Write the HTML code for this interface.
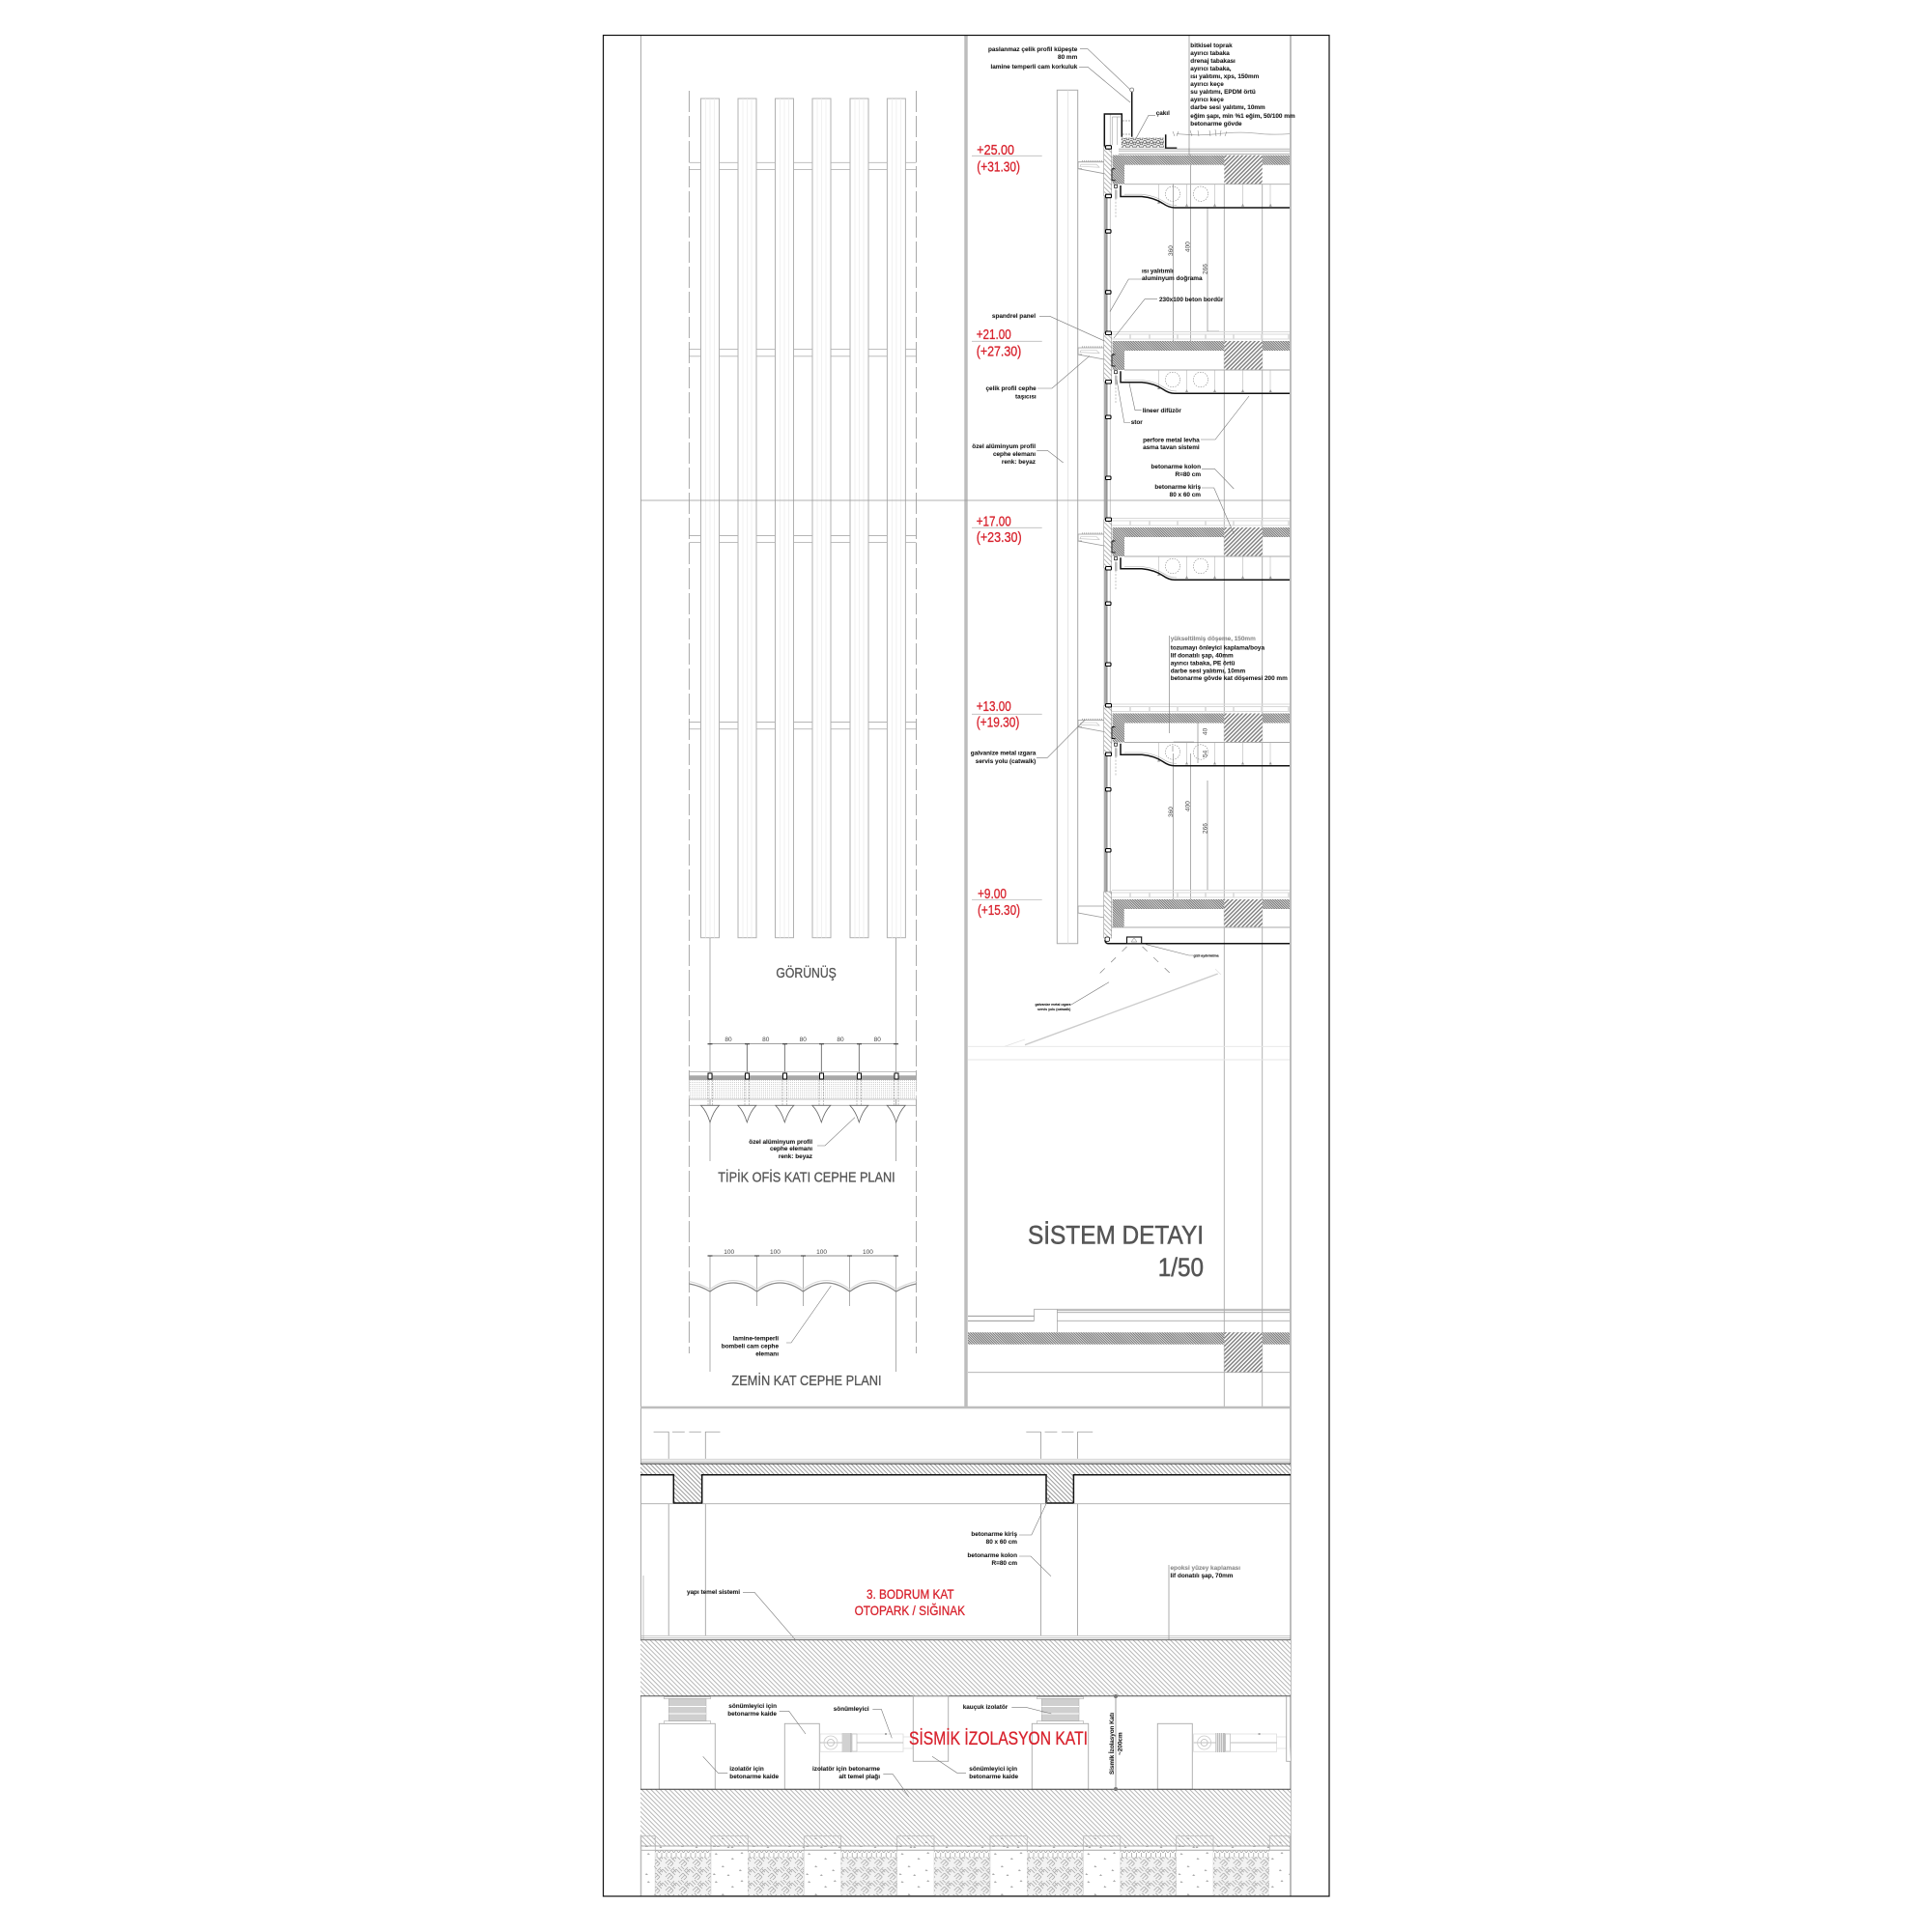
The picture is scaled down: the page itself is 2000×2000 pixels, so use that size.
<!DOCTYPE html>
<html><head><meta charset="utf-8"><title>Sistem Detayı</title>
<style>
html,body{margin:0;padding:0;background:#fff;width:2000px;height:2000px;overflow:hidden}
svg{display:block}
.t{font:bold 6.4px "Liberation Sans",sans-serif;fill:#1a1a1a;stroke:#1a1a1a;stroke-width:.08}
.e{text-anchor:end}
.g{fill:#8a8a8a;stroke:#8a8a8a}
.r{font-family:"Liberation Sans",sans-serif;fill:#d8232e;font-weight:normal;stroke:#d8232e;stroke-width:.3}
.h{font-family:"Liberation Sans",sans-serif;fill:#555;font-weight:normal;stroke:#555;stroke-width:.3}
.d{font:6.5px "Liberation Sans",sans-serif;fill:#444}
.l{fill:none;stroke:#777;stroke-width:.6}
.m{fill:none;stroke:#aaa;stroke-width:.9}
.k{fill:none;stroke:#111;stroke-width:1.5}
</style></head><body>
<svg width="2000" height="2000" viewBox="0 0 2000 2000" xmlns="http://www.w3.org/2000/svg">
<defs>
<pattern id="fine" width="1.8" height="1.8" patternUnits="userSpaceOnUse" patternTransform="rotate(45)"><rect width="1.8" height="1.8" fill="#fff"/><rect width="1.8" height="1.1" fill="#6e6e6e"/></pattern>
<pattern id="beam" width="3" height="3" patternUnits="userSpaceOnUse" patternTransform="rotate(-45)"><rect width="3" height="3" fill="#fff"/><rect width="3" height="1.4" fill="#7c7c7c"/></pattern>
<pattern id="found" width="3.4" height="3.4" patternUnits="userSpaceOnUse" patternTransform="rotate(45)"><rect width="3.4" height="3.4" fill="#fff"/><rect width="3.4" height=".9" fill="#b0b0b0"/></pattern>
<pattern id="roofb" width="3.2" height="3.2" patternUnits="userSpaceOnUse" patternTransform="rotate(45)"><rect width="3.2" height="3.2" fill="#fff"/><rect width="3.2" height="1" fill="#9a9a9a"/></pattern>
<pattern id="dots" width="2" height="2" patternUnits="userSpaceOnUse"><rect width="2" height="2" fill="#fff"/><rect width="1" height="1" fill="#cfcfcf"/></pattern>
<pattern id="weave" width="14" height="14" patternUnits="userSpaceOnUse"><rect width="14" height="14" fill="#f2f2f2"/><path d="M0 3l4 4M2 1l4 4M4-1l4 4M7 7l-4 4M9 9l-4 4M11 11l-4 4M14 3l-4 4M12 1l-4 4M7 7l4 4M9 5l4 4M11 3l4 4" stroke="#aaa" stroke-width=".8" fill="none"/></pattern>
<pattern id="zig" width="5" height="7" patternUnits="userSpaceOnUse"><rect width="5" height="7" fill="#fff"/><path d="M0 0v4l2.5 3 2.5-3V0" stroke="#999" stroke-width=".7" fill="none"/></pattern>
<pattern id="speck" width="37" height="29" patternUnits="userSpaceOnUse"><path d="M5 4l2 2H4zM22 9l2 2h-3zM12 17l2 2h-3zM30 21l2 2h-3zM3 25l2 2H2zM32 3l1.5 2h-3zM18 26l1.500 2h-3z" fill="#aaa"/></pattern>
<pattern id="grav" width="7" height="5" patternUnits="userSpaceOnUse"><rect width="7" height="5" fill="#e4e4e4"/><circle cx="2" cy="2" r="1.600" fill="none" stroke="#666" stroke-width=".7"/><circle cx="5.500" cy="3.500" r="1.400" fill="none" stroke="#666" stroke-width=".7"/></pattern>

<g id="strip"><rect x="0" y="102" width="19" height="868.700" fill="#fff" stroke="#b0b0b0" stroke-width="1"/><path d="M5 102v868.700M9.500 102v868.700M14 102v868.700" stroke="#ececec" stroke-width=".7"/></g>

<g id="floor">
 <rect x="1151.700" y="0" width="184.300" height="10" fill="url(#fine)"/>
 <rect x="1151.700" y="0" width="12.300" height="30" fill="url(#fine)"/>
 <rect x="1267.300" y="0" width="39.400" height="30" fill="url(#beam)"/>
 <path d="M1164 30H1336" class="m"/>
 <path d="M1199.300 30v20M1228.300 30v22M1257.300 30v22M1286.300 30v22M1315 30v22" stroke="#aaa" stroke-width=".5" fill="none"/>
 <path d="M1198 50h3l-1.500-3zM1227 53h3l-1.500-3zM1256 53h3l-1.500-3zM1285 53h3l-1.500-3zM1313.700 53h3l-1.500-3z" fill="#999"/>
 <circle cx="1214" cy="40" r="7.700" fill="none" stroke="#888" stroke-width=".6" stroke-dasharray="1.500 1.200"/>
 <circle cx="1243" cy="40" r="7.700" fill="none" stroke="#888" stroke-width=".6" stroke-dasharray="1.500 1.200"/>
 <path d="M1160 31.300V42.800H1182Q1195 44 1204 50 1210 54.300 1216 54.300H1336" class="k"/>
 <path d="M1164 40.500H1182Q1196 42 1205 48 1211 52 1218 52" fill="none" stroke="#aaa" stroke-width=".6"/>
 <rect x="1142.700" y="-8" width="8" height="50" fill="url(#found)" stroke="#888" stroke-width=".5"/>
 <path d="M1151 14h3.500M1151 26h3.500M1151 14v12" stroke="#111" stroke-width="1" fill="none"/>
 <rect x="1153.500" y="30.700" width="3" height="3" fill="#fff" stroke="#111" stroke-width=".7"/>
 <path d="M1155 34v30" stroke="#aaa" stroke-width=".7" stroke-dasharray="2 1.500"/>
 <rect x="1154" y="36" width="2.500" height="9" fill="#bbb"/>
 <rect x="1144.500" y="-10" width="6" height="3.500" rx="1" fill="#fff" stroke="#000" stroke-width="1.100"/>
 <rect x="1144.500" y="40.500" width="6" height="3.500" rx="1" fill="#fff" stroke="#000" stroke-width="1.100"/>
 <rect x="1144.500" y="77" width="5.500" height="3.500" rx="1" fill="#fff" stroke="#000" stroke-width="1.100"/>
 <rect x="1144.500" y="140" width="5.500" height="3.500" rx="1" fill="#fff" stroke="#000" stroke-width="1.100"/>
 <path d="M1116 7V14l27 5M1116 7h27M1116 14h4" fill="none" stroke="#999" stroke-width=".8"/>
 <path d="M1119 9.500h16l3 3-20-.800z" fill="none" stroke="#bbb" stroke-width=".6"/>
 <path d="M1120 6h22" stroke="#aaa" stroke-width="1.200" stroke-dasharray="1 1"/>
</g>
<g id="raised">
 <path d="M1151-9.500H1336M1151-7H1336M1151-2H1336" stroke="#d8d8d8" stroke-width=".9" fill="none"/>
 <path d="M1190-7v5M1219-7v5M1248-7v5M1277-7v5M1306-7v5M1334-7v5M1170-7v5" stroke="#ddd" stroke-width="1.800"/>
</g>
<g id="damper">
 <path d="M849 1795H935V1813.300H849zM935 1798H945V1810H935z" fill="#fff" stroke="#ddd" stroke-width=".8"/>
 <path d="M849 1804H935" stroke="#aaa" stroke-width=".7"/>
 <circle cx="860" cy="1804" r="7" fill="none" stroke="#ccc" stroke-width=".8"/><circle cx="860" cy="1804" r="3.500" fill="none" stroke="#bbb" stroke-width=".8"/>
 <rect x="871.700" y="1794" width="10" height="20" fill="#bdbdbd"/>
 <path d="M873 1794v20M875 1794v20M877 1794v20M879 1794v20" stroke="#fff" stroke-width=".6"/>
 <rect x="882" y="1795" width="5" height="18" fill="#fff" stroke="#bbb" stroke-width=".7"/>
 <rect x="916" y="1794" width="2" height="2" fill="#aaa"/>
</g>
<g id="iso">
 <rect x="687.300" y="1756.700" width="48.400" height="1.800" fill="#fff" stroke="#aaa" stroke-width=".6"/>
 <rect x="692.300" y="1758.500" width="38.700" height="23.200" fill="#cfcfcf" stroke="#aaa" stroke-width=".5"/>
 <path d="M692.300 1766.500h38.700M692.300 1774h38.700" stroke="#fff" stroke-width="1"/>
 <rect x="687.300" y="1781.700" width="48.400" height="2.600" fill="#fff" stroke="#aaa" stroke-width=".6"/>
</g>
<g id="prof"><path d="M-9.500 0H9.500Q3.500 6 0 17.500Q-3.500 6-9.500 0z" fill="#fff" stroke="#666" stroke-width=".8"/></g>
<g id="pile">
 <rect x="0" y="1900.700" width="38.300" height="14.500" fill="url(#speck)" stroke="#bbb" stroke-width=".8"/>
 <rect x="0" y="1915.300" width="38.300" height="47" fill="url(#speck)" stroke="#ccc" stroke-width=".5"/>
 <rect x="38.300" y="1915.300" width="58" height="7" fill="url(#zig)"/>
 <rect x="38.300" y="1922.300" width="58" height="40" fill="url(#weave)"/>
</g>
</defs>
<rect width="2000" height="2000" fill="#fff"/>

<!-- left elevation -->
<path d="M713.300 168.300H948.500M713.300 175.400H948.500M713.300 361.600H948.500M713.300 368.800H948.500M713.300 554.500H948.500M713.300 561.600H948.500M713.300 747.500H948.500M713.300 754.700H948.500" stroke="#b5b5b5" stroke-width=".9"/>
<use href="#strip" x="725.500"/><use href="#strip" x="764"/><use href="#strip" x="802.500"/><use href="#strip" x="841"/><use href="#strip" x="880"/><use href="#strip" x="918.400"/>
<path d="M713.400 94V1401M948.500 94V1401" stroke="#a0a0a0" stroke-width=".9" stroke-dasharray="22 4" fill="none"/>
<path d="M735 971V1202M927.500 971V1202M735 1300V1420M927.500 1300V1420M783.600 1300V1352M831.400 1300V1352M879.600 1300V1352" class="l"/>
<!-- plan 1 -->
<path d="M735 1080.700H927.700" stroke="#666" stroke-width=".7"/>
<path d="M773.300 1080.700V1111M812.300 1080.700V1111M850.300 1080.700V1111M889.300 1080.700V1111" stroke="#555" stroke-width=".8"/>
<path d="M732.500 1080.700h5M771 1080.700h5M810 1080.700h5M848 1080.700h5M887 1080.700h5M925 1080.700h5" stroke="#222" stroke-width="1"/>
<rect x="713.500" y="1118" width="235" height="20" fill="url(#dots)"/>
<rect x="713.500" y="1113.300" width="235" height="4.700" fill="#a8a8a8"/>
<path d="M713.500 1109.500H948.500M713.500 1144.300H948.500M713.500 1138H948.500" stroke="#aaa" stroke-width=".8"/>
<path d="M733 1112v32M737.500 1112v32M771 1112v32M775.500 1112v32M810 1112v32M814.500 1112v32M848 1112v32M852.500 1112v32M887 1112v32M891.500 1112v32M925.500 1112v32M930 1112v32" stroke="#999" stroke-width=".6" stroke-dasharray="2 1"/>
<path d="M733 1111h4v6h-4zM771.500 1111h4v6h-4zM810.500 1111h4v6h-4zM848.500 1111h4v6h-4zM887.500 1111h4v6h-4zM926 1111h4v6h-4z" fill="#fff" stroke="#111" stroke-width="1"/>
<use href="#prof" x="735" y="1144.300"/><use href="#prof" x="773.300" y="1144.300"/><use href="#prof" x="812.300" y="1144.300"/><use href="#prof" x="850.300" y="1144.300"/><use href="#prof" x="889.300" y="1144.300"/><use href="#prof" x="927.700" y="1144.300"/>
<path d="M885 1156.700L854 1186H846" class="l"/>
<text class="d" x="754" y="1078" text-anchor="middle">80</text><text class="d" x="792.700" y="1078" text-anchor="middle">80</text><text class="d" x="831.300" y="1078" text-anchor="middle">80</text><text class="d" x="870" y="1078" text-anchor="middle">80</text><text class="d" x="908.300" y="1078" text-anchor="middle">80</text>
<text class="t e" x="841" y="1184">özel alüminyum profil</text><text class="t e" x="841" y="1191">cephe elemanı</text><text class="t e" x="841" y="1199">renk: beyaz</text>
<text class="h" x="803.400" y="1012" font-size="15" textLength="62.400" lengthAdjust="spacingAndGlyphs">GÖRÜNÜŞ</text>
<text class="h" x="743.300" y="1223.300" font-size="15" textLength="183.400" lengthAdjust="spacingAndGlyphs">TİPİK OFİS KATI CEPHE PLANI</text>
<text class="h" x="757.400" y="1434" font-size="15" textLength="155.200" lengthAdjust="spacingAndGlyphs">ZEMİN KAT CEPHE PLANI</text>
<!-- plan 2 -->
<path d="M735 1300H927.500" stroke="#666" stroke-width=".7"/>
<path d="M732.500 1300h5M781 1300h5M829 1300h5M877 1300h5M925 1300h5" stroke="#222" stroke-width="1"/>
<text class="d" x="754.700" y="1298" text-anchor="middle">100</text><text class="d" x="802.400" y="1298" text-anchor="middle">100</text><text class="d" x="850.600" y="1298" text-anchor="middle">100</text><text class="d" x="898.400" y="1298" text-anchor="middle">100</text>
<path d="M713.500 1329Q725 1331 735 1337Q759 1319 783.600 1337Q807.500 1319 831.400 1337Q855.500 1319 879.600 1337Q903.500 1319 927.500 1337Q938 1331 948.500 1329" fill="none" stroke="#8a8a8a" stroke-width="1.300"/>
<path d="M713.500 1326.500Q725 1329 735 1334.500Q759 1316.500 783.600 1334.500Q807.500 1316.500 831.400 1334.500Q855.500 1316.500 879.600 1334.500Q903.500 1316.500 927.500 1334.500Q938 1329 948.500 1326.500" fill="none" stroke="#d5d5d5" stroke-width="1"/>
<path d="M860.300 1331L819 1390H814" class="l"/>
<text class="t e" x="806" y="1387.500">lamine-temperli</text><text class="t e" x="806" y="1395.500">bombeli cam cephe</text><text class="t e" x="806" y="1403.500">elemanı</text>

<!-- right section -->
<path d="M1267.300 190V1457M1306.700 190V1457" stroke="#aaa" stroke-width=".9"/>
<path d="M1094.300 93.300H1115.700V976.700H1094.300Z" fill="#fff" stroke="#aaa" stroke-width="1"/><path d="M1105.700 93.300V976.700" stroke="#ddd" stroke-width=".8"/>
<path d="M1214.700 190V353M1232.300 160V353M1250 215V343H1262M1214.700 780V931M1232.300 780V931M1250 808V921" class="l"/>
<path d="M1144.200 152V960" stroke="#aaa" stroke-width="3"/><path d="M1146 152V960" stroke="#555" stroke-width=".7"/><path d="M1149.300 118V955" stroke="#bbb" stroke-width=".8"/>
<use href="#raised" y="353"/><use href="#raised" y="546"/><use href="#raised" y="738.500"/><use href="#raised" y="931"/>
<use href="#floor" y="160.700"/><use href="#floor" y="353"/><use href="#floor" y="546"/><use href="#floor" y="738.500"/>
<!-- bottom floor of detail -->
<rect x="1151.700" y="931" width="184.300" height="10" fill="url(#fine)"/>
<rect x="1151.700" y="931" width="12" height="29" fill="url(#fine)"/>
<rect x="1267.300" y="931" width="39.400" height="29" fill="url(#beam)"/>
<rect x="1142.700" y="923" width="8" height="48" fill="url(#found)" stroke="#888" stroke-width=".5"/>
<path d="M1116 938V945l27 5M1116 938h27" fill="none" stroke="#999" stroke-width=".8"/>
<path d="M1151 960H1336" class="m"/>
<path d="M1144 973q0 3.500 3 3.700H1336" class="k"/>
<rect x="1144" y="970" width="4.500" height="4.500" rx="1.500" fill="#fff" stroke="#111" stroke-width=".8"/>
<rect x="1166.500" y="970" width="15.200" height="6.700" fill="#fff" stroke="#111" stroke-width="1.100"/>
<path d="M1174 971l-3 4h6z" fill="none" stroke="#777" stroke-width=".5"/>
<path d="M1166.500 980L1133 1013M1182.600 980L1217 1013" stroke="#777" stroke-width=".6" stroke-dasharray="7 9" fill="none"/>
<path d="M1185 977.300L1230.800 989H1235.400" class="l"/>
<text class="t" x="1235.500" y="990.500" style="font-size:3.500px">gizli aydınlatma</text>
<text class="t" x="1071.500" y="1041" style="font-size:3.500px">galvanize metal ızgara</text><text class="t" x="1074" y="1046" style="font-size:3.500px">servis yolu (catwalk)</text>
<path d="M1109 1040L1148 1016.700" class="l"/>
<path d="M1061 1081.700L1260.700 1008" stroke="#ccc" stroke-width="1.400"/>
<path d="M1040 1083.300L1061 1076M1258 1003l6 6" stroke="#e2e2e2" stroke-width=".8"/>
<path d="M1002 1083.300H1336M1002 1097H1336" stroke="#e5e5e5" stroke-width=".9"/>
<!-- roof -->
<path d="M1143.300 151.700V118H1161.300V141.700" class="k"/>
<path d="M1171.700 93.300V141.700" stroke="#111" stroke-width="1.500"/>
<circle cx="1171.700" cy="93" r="2" fill="#fff" stroke="#777" stroke-width=".8"/>
<path d="M1151.300 121V150M1156.700 121V150M1151.300 121H1161" stroke="#aaa" stroke-width=".7" fill="none"/>
<path d="M1162 125h8M1162 139h8" stroke="#bbb" stroke-width="1.200" stroke-dasharray="2 1"/>
<rect x="1160.700" y="142.700" width="44.300" height="10" fill="url(#grav)"/>
<path d="M1206.700 139.300V153.300H1218.300" class="k"/>
<path d="M1158 154.200H1336M1158 156.200H1336M1158 159.300H1336" stroke="#aaa" stroke-width=".8"/>
<path d="M1218 138.500Q1240 141 1262 138.500T1300 138T1336 138.500" fill="none" stroke="#aaa" stroke-width=".7"/>
<path d="M1214 136l2 5M1220 136l-2 5M1232 135l2 6M1240 135l1 6M1252 135l1 6M1258 134l1 7M1264 135l-1 6M1270 136l-2 5" stroke="#777" stroke-width=".5"/>
<path d="M1231 37V160.700" class="l"/>
<!-- section lower -->
<path d="M1002 1362.300H1070.600M1002 1367.300H1070.600" stroke="#888" stroke-width=".8"/>
<path d="M1070.600 1367.300V1355.300H1336M1094.400 1355.300V1379M1094.400 1356.700H1336M1094.400 1358.700H1336M1094.400 1367.300H1336" stroke="#aaa" stroke-width=".8" fill="none"/>
<rect x="1002" y="1379.300" width="334" height="12.400" fill="url(#fine)"/>
<rect x="1267.500" y="1379.300" width="39" height="41.400" fill="url(#beam)"/>
<path d="M1002 1420.700H1336" class="m"/>

<!-- frame lines -->
<path d="M663.500 37V1963" stroke="#aaa" stroke-width="1"/>
<path d="M1000 37V1457" stroke="#bdbdbd" stroke-width="3.500"/>
<path d="M1336 37V1963" stroke="#bdbdbd" stroke-width="2"/>
<path d="M663 1457H1336" stroke="#bdbdbd" stroke-width="2.500"/>
<path d="M663 518H1336" stroke="#999" stroke-width=".8"/>

<!-- leaders section -->
<path d="M1118 50.700H1126L1170 92.700M1117 69.300H1126L1170 106M1196 119.300H1189L1176 143.300M1181.700 289H1168.300L1149 322.700M1198 309.700H1185L1153 350M1076 327.300H1086.700L1142.700 352.700M1074 402H1089L1128 368.300M1181.700 424.700H1175L1169 396.700M1170 437.500H1163.800L1156 393M1243 455H1258L1293 410M1244 485.300H1257.300L1277.300 506M1244 505H1256.700L1277.300 552.700M1073.300 466.300H1084.300L1100.700 479M1073 784.300H1084.300L1123.300 745M1210.700 658V759" class="l"/>
<path d="M1006 161.300H1078.700M1006 353.300H1078.700M1006 546.300H1078.700M1006 739.300H1078.700M1006 931.500H1078.700" stroke="#bbb" stroke-width=".8"/>
<path d="M1214.700 768H1236M1214 772V778M1240 748V790" class="l"/>

<text class="r" x="1011.300" y="160" font-size="14.500" textLength="38.700" lengthAdjust="spacingAndGlyphs">+25.00</text>
<text class="r" x="1011.300" y="177.700" font-size="14.500" textLength="44.700" lengthAdjust="spacingAndGlyphs">(+31.30)</text>
<text class="r" x="1010.700" y="351" font-size="14.500" textLength="36" lengthAdjust="spacingAndGlyphs">+21.00</text>
<text class="r" x="1010.700" y="368.300" font-size="14.500" textLength="46.600" lengthAdjust="spacingAndGlyphs">(+27.30)</text>
<text class="r" x="1010.700" y="544.300" font-size="14.500" textLength="36" lengthAdjust="spacingAndGlyphs">+17.00</text>
<text class="r" x="1010.700" y="561" font-size="14.500" textLength="47" lengthAdjust="spacingAndGlyphs">(+23.30)</text>
<text class="r" x="1010.700" y="736" font-size="14.500" textLength="36" lengthAdjust="spacingAndGlyphs">+13.00</text>
<text class="r" x="1010.700" y="752.700" font-size="14.500" textLength="44.700" lengthAdjust="spacingAndGlyphs">(+19.30)</text>
<text class="r" x="1012" y="930" font-size="14.500" textLength="30" lengthAdjust="spacingAndGlyphs">+9.00</text>
<text class="r" x="1012" y="947" font-size="14.500" textLength="44" lengthAdjust="spacingAndGlyphs">(+15.30)</text>

<text class="t e" x="1115.300" y="53">paslanmaz çelik profil küpeşte</text><text class="t e" x="1115.300" y="61">80 mm</text>
<text class="t e" x="1115.300" y="71">lamine temperli cam korkuluk</text>
<text class="t" x="1196.700" y="119">çakıl</text>
<text class="t" x="1232.300" y="49">bitkisel toprak</text><text class="t" x="1232.300" y="57">ayırıcı tabaka</text><text class="t" x="1232.300" y="65">drenaj tabakası</text><text class="t" x="1232.300" y="73">ayırıcı tabaka,</text><text class="t" x="1232.300" y="81">ısı yalıtımı, xps, 150mm</text><text class="t" x="1232.300" y="89">ayırıcı keçe</text><text class="t" x="1232.300" y="97">su yalıtımı, EPDM örtü</text><text class="t" x="1232.300" y="105">ayırıcı keçe</text><text class="t" x="1232.300" y="113">darbe sesi yalıtımı, 10mm</text><text class="t" x="1232.300" y="122">eğim şapı, min %1 eğim, 50/100 mm</text><text class="t" x="1232.300" y="130">betonarme gövde</text>
<text class="t" x="1182" y="282.500">ısı yalıtımlı</text><text class="t" x="1182" y="290">aluminyum doğrama</text>
<text class="t" x="1200" y="312">230x100 beton bordür</text>
<text class="t e" x="1072" y="329">spandrel panel</text>
<text class="t e" x="1072.700" y="404">çelik profil cephe</text><text class="t e" x="1072.700" y="412.500">taşıcısı</text>
<text class="t" x="1182.700" y="427">lineer difüzör</text>
<text class="t" x="1170.700" y="439">stor</text>
<text class="t e" x="1241.700" y="457.500">perfore metal levha</text><text class="t e" x="1241.700" y="465">asma tavan sistemi</text>
<text class="t e" x="1243" y="485">betonarme kolon</text><text class="t e" x="1243" y="493">R=80 cm</text>
<text class="t e" x="1243" y="506">betonarme kiriş</text><text class="t e" x="1243" y="514">80 x 60 cm</text>
<text class="t e" x="1072" y="464">özel alüminyum profil</text><text class="t e" x="1072" y="472">cephe elemanı</text><text class="t e" x="1072" y="480">renk: beyaz</text>
<text class="t g" x="1211.700" y="663">yükseltilmiş döşeme, 150mm</text><text class="t" x="1211.700" y="672.500">tozumayı önleyici kaplama/boya</text><text class="t" x="1211.700" y="680.500">lif donatılı şap, 40mm</text><text class="t" x="1211.700" y="688.500">ayırıcı tabaka, PE örtü</text><text class="t" x="1211.700" y="696.500">darbe sesi yalıtımı, 10mm</text><text class="t" x="1211.700" y="704">betonarme gövde kat döşemesi 200 mm</text>
<text class="t e" x="1072.300" y="781.500">galvanize metal ızgara</text><text class="t e" x="1072.300" y="790">servis yolu (catwalk)</text>
<text class="d" transform="translate(1214,265) rotate(-90)">360</text><text class="d" transform="translate(1231.500,261) rotate(-90)">400</text><text class="d" transform="translate(1249.500,284) rotate(-90)">266</text>
<text class="d" transform="translate(1214,846) rotate(-90)">360</text><text class="d" transform="translate(1231.500,840) rotate(-90)">400</text><text class="d" transform="translate(1249.500,863) rotate(-90)">266</text>
<text class="d" transform="translate(1249.500,761) rotate(-90)">40</text><text class="d" transform="translate(1249.500,784) rotate(-90)">54</text>
<text class="h" x="1064" y="1287.300" font-size="27" textLength="182" lengthAdjust="spacingAndGlyphs" style="stroke-width:.5">SİSTEM DETAYI</text>
<text class="h" x="1198.700" y="1321" font-size="27" textLength="47.300" lengthAdjust="spacingAndGlyphs" style="stroke-width:.5">1/50</text>

<!-- basement -->
<path d="M663 1511H1336M663 1513.300H1336" stroke="#aaa" stroke-width=".8"/>
<path d="M676.600 1482.300H692.200M696 1482.300H708.800M713.400 1482.300H725.800M730.300 1482.300H745.500M1062.300 1482.300H1077M1081.600 1482.300H1094.400M1099 1482.300H1111.400M1116 1482.300H1131.200" stroke="#aaa" stroke-width=".8"/>
<path d="M692.200 1482V1510M730.300 1482V1510M1077.500 1482V1510M1115.600 1482V1510M692.200 1556.700V1693M730.300 1556.700V1693M1077.500 1556.700V1693M1115.600 1556.700V1693" stroke="#999" stroke-width=".8"/>
<rect x="663" y="1515.700" width="673" height="11" fill="url(#roofb)"/>
<rect x="697.300" y="1526" width="29.400" height="30" fill="url(#roofb)"/><rect x="1083" y="1526" width="28.400" height="30" fill="url(#roofb)"/>
<path d="M663 1515.200H1336" stroke="#333" stroke-width="1"/>
<path d="M663 1526.700H697.300V1556H726.700V1526.700H1083V1556H1111.400V1526.700H1336" class="k"/>
<path d="M663 1556.700H697M727 1556.700H1083M1111 1556.700H1336" stroke="#aaa" stroke-width=".8"/>
<path d="M666 1631V1706" stroke="#aaa" stroke-width=".7"/>
<path d="M1055 1589H1067.800L1087 1548.300M1055 1611H1067L1088 1631.700M769 1648.300H781L832.700 1708.300M1210 1620V1720.700" class="l"/>
<text class="t e" x="1053" y="1590">betonarme kiriş</text><text class="t e" x="1053" y="1598">80 x 60 cm</text>
<text class="t e" x="1053" y="1612">betonarme kolon</text><text class="t e" x="1053" y="1620">R=80 cm</text>
<text class="t e" x="766" y="1650">yapı temel sistemi</text>
<text class="t g" x="1211.500" y="1625">epoksi yüzey kaplaması</text><text class="t" x="1211.500" y="1633">lif donatılı şap, 70mm</text>
<text class="r" x="897" y="1655" font-size="14" textLength="90.500" lengthAdjust="spacingAndGlyphs">3. BODRUM KAT</text>
<text class="r" x="884.600" y="1672" font-size="14" textLength="114.400" lengthAdjust="spacingAndGlyphs">OTOPARK / SIĞINAK</text>
<!-- foundation -->
<path d="M663 1693.300H1336M663 1695.700H1336" stroke="#aaa" stroke-width=".7"/>
<rect x="663" y="1698" width="673" height="57.500" fill="url(#found)"/>
<path d="M663 1697.500H1336" stroke="#777" stroke-width="1.300"/>
<path d="M663 1755.800H1336" stroke="#555" stroke-width="1"/>
<rect x="663" y="1852.300" width="673" height="58.700" fill="url(#found)"/>
<!-- isolators -->
<use href="#iso"/><use href="#iso" x="386"/>
<g fill="#fff" stroke="#aaa" stroke-width=".9">
<rect x="682.300" y="1784.300" width="58" height="68"/><rect x="1068.300" y="1784.300" width="58.400" height="68"/>
<rect x="812.300" y="1784.300" width="36" height="68"/><rect x="1198.300" y="1784.300" width="36" height="68"/>
</g>
<use href="#damper"/><use href="#damper" x="386.600"/>
<g fill="#fff" stroke="#aaa" stroke-width=".9">
<rect x="945.300" y="1756" width="36.400" height="67.300"/><path d="M1336 1823.300H1331.700V1756"/>
</g>
<path d="M663 1852.300H1336" stroke="#444" stroke-width="1"/>
<path d="M806.700 1771.300H816.700L834 1795M903.300 1769.300H912.300L923.300 1799.300M1047.300 1767.300H1061.700L1088.300 1774M753.300 1835.300H743.300L727.700 1818.300M914.300 1836.700H924.300L941 1860M1000 1835.300H990.700L965 1818.300" class="l"/>
<text class="t e" x="804" y="1768">sönümleyici için</text><text class="t e" x="804" y="1776">betonarme kaide</text>
<text class="t e" x="899.700" y="1771">sönümleyici</text>
<text class="t" x="996.700" y="1769">kauçuk izolatör</text>
<text class="t" x="755.300" y="1833">izolatör için</text><text class="t" x="755.300" y="1841">betonarme kaide</text>
<text class="t e" x="911" y="1833">izolatör için betonarme</text><text class="t e" x="911" y="1841">alt temel plağı</text>
<text class="t" x="1003.300" y="1833">sönümleyici için</text><text class="t" x="1003.300" y="1841">betonarme kaide</text>
<text class="r" x="941" y="1806" font-size="19" textLength="185" lengthAdjust="spacingAndGlyphs">SİSMİK İZOLASYON KATI</text>
<path d="M1155 1756V1852" stroke="#888" stroke-width=".8"/><circle cx="1155" cy="1756" r="2" fill="#777"/><circle cx="1155" cy="1852" r="2" fill="#777"/>
<text class="t" transform="translate(1153,1837) rotate(-90)" textLength="64">Sismik İzolasyon Katı</text>
<text class="t" transform="translate(1161.500,1817) rotate(-90)">~200cm</text>
<!-- piles -->
<rect x="663" y="1911" width="673" height="4.300" fill="url(#speck)"/>
<rect x="663" y="1900.700" width="15.300" height="62" fill="url(#speck)"/>
<path d="M663 1900.700H678.300V1962" stroke="#bbb" stroke-width=".8" fill="none"/>
<rect x="678.300" y="1915.300" width="57.700" height="7" fill="url(#zig)"/><rect x="678.300" y="1922.300" width="57.700" height="40" fill="url(#weave)"/>
<use href="#pile" x="736"/><use href="#pile" x="832.300"/><use href="#pile" x="928.700"/><use href="#pile" x="1025"/><use href="#pile" x="1121.500"/><use href="#pile" x="1217.700"/>
<rect x="1314.300" y="1900.700" width="21" height="14.500" fill="url(#speck)" stroke="#bbb" stroke-width=".8"/><rect x="1314.300" y="1915.300" width="21" height="47" fill="url(#speck)"/>
<path d="M663 1911H1336M663 1915.300H1336" stroke="#aaa" stroke-width=".9"/>
<!-- outer frame -->
<path d="M663.500 1900V1963M1336 1900V1963" stroke="#bbb" stroke-width="1.500"/>
<rect x="624.500" y="36.500" width="751.500" height="1926.500" fill="none" stroke="#111" stroke-width="1.200"/>
</svg>
</body></html>
